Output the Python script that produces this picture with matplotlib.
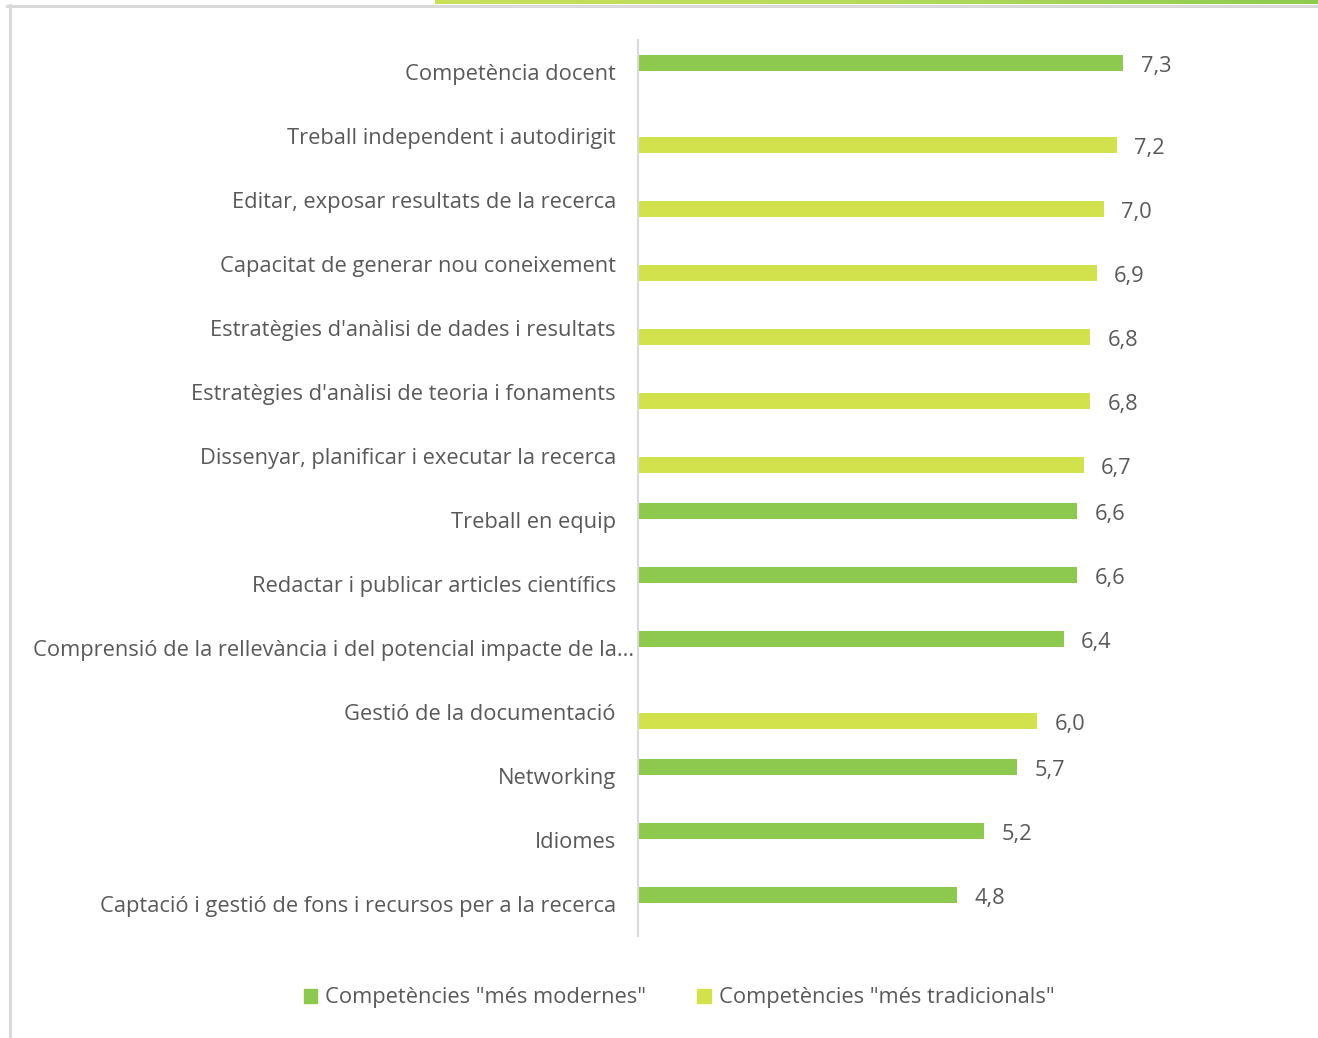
import numpy as np
import matplotlib
matplotlib.use("Agg")
import matplotlib.pyplot as plt
from matplotlib.patches import Patch
from matplotlib import font_manager

categories = [
    "Competència docent",
    "Treball independent i autodirigit",
    "Editar, exposar resultats de la recerca",
    "Capacitat de generar nou coneixement",
    "Estratègies d'anàlisi de dades i resultats",
    "Estratègies d'anàlisi de teoria i fonaments",
    "Dissenyar, planificar i executar la recerca",
    "Treball en equip",
    "Redactar i publicar articles científics",
    "Comprensió de la rellevància i del potencial impacte de la...",
    "Gestió de la documentació",
    "Networking",
    "Idiomes",
    "Captació i gestió de fons i recursos per a la recerca",
]
# NaN where the competence does not belong to the series
modernes = [7.3, np.nan, np.nan, np.nan, np.nan, np.nan, np.nan, 6.6, 6.6, 6.4, np.nan, 5.7, 5.2, 4.8]
tradicionals = [np.nan, 7.2, 7.0, 6.9, 6.8, 6.8, 6.7, np.nan, np.nan, np.nan, 6.0, np.nan, np.nan, np.nan]
series_names = ['Competències "més modernes"', 'Competències "més tradicionals"']

C_MOD = "#8DC94F"
C_TRAD = "#D2E24D"
TXT = "#595959"
AXC = "#D9D9D9"

names = {f.name for f in font_manager.fontManager.ttflist}
family = "Liberation Sans Narrow" if "Liberation Sans Narrow" in names else "Open Sans"
plt.rcParams["font.family"] = [family, "DejaVu Sans"]
FS = 15.75

W, H = 1318, 1038
fig = plt.figure(figsize=(W / 100, H / 100), dpi=100)
fig.patch.set_facecolor("white")

# frame lines around the chart
fig.add_artist(plt.Line2D([7 / W, 1], [1 - 5.5 / H] * 2, color=AXC, lw=2.2))
fig.add_artist(plt.Line2D([9.5 / W] * 2, [0, 1 - 5 / H], color=AXC, lw=2.2))
band = fig.add_axes([435 / W, 1 - 4 / H, 1 - 435 / W, 4 / H])
grad = np.linspace(0, 1, 256)[None, :]
band.imshow(grad, aspect="auto", cmap=matplotlib.colors.LinearSegmentedColormap.from_list(
    "band", ["#C9E05A", "#B5DA5C", "#8DCB50"]))
band.axis("off")

ax = fig.add_axes([638 / W, 1 - 936 / H, (1303 - 638) / W, 896 / H])
y = np.arange(len(categories))
h = 0.25
off = 0.14
ax.barh(y - off, modernes, height=h, color=C_MOD)
ax.barh(y + off, tradicionals, height=h, color=C_TRAD)

for vals, dy in ((modernes, -off), (tradicionals, off)):
    for i, v in enumerate(vals):
        if np.isnan(v):
            continue
        ax.annotate(f"{v:.1f}".replace(".", ","), (v, i + dy), xytext=(12.5, -2.5),
                    textcoords="offset points", va="center", ha="left",
                    fontsize=FS, color=TXT)

ax.set_xlim(0, 10)
ax.set_ylim(len(categories) - 0.5, -0.5)
ax.set_yticks(y)
ax.set_yticklabels(categories, fontsize=FS, color=TXT)
ax.tick_params(axis="y", length=0, pad=16)
ax.yaxis.get_major_ticks()[9].set_pad(3)
ax.set_xticks([])
for s in ("top", "right", "bottom"):
    ax.spines[s].set_visible(False)
ax.spines["left"].set_color(AXC)
ax.spines["left"].set_linewidth(1.5)

handles = [Patch(color=C_MOD), Patch(color=C_TRAD)]
fig.legend(handles, series_names, loc="center", bbox_to_anchor=(679 / W, 1 - 998 / H),
           ncol=2, frameon=False, fontsize=FS, labelcolor=TXT,
           handlelength=0.62, handleheight=0.62, handletextpad=0.35, columnspacing=2.35)

fig.savefig("out.png", dpi=100, facecolor="white")
